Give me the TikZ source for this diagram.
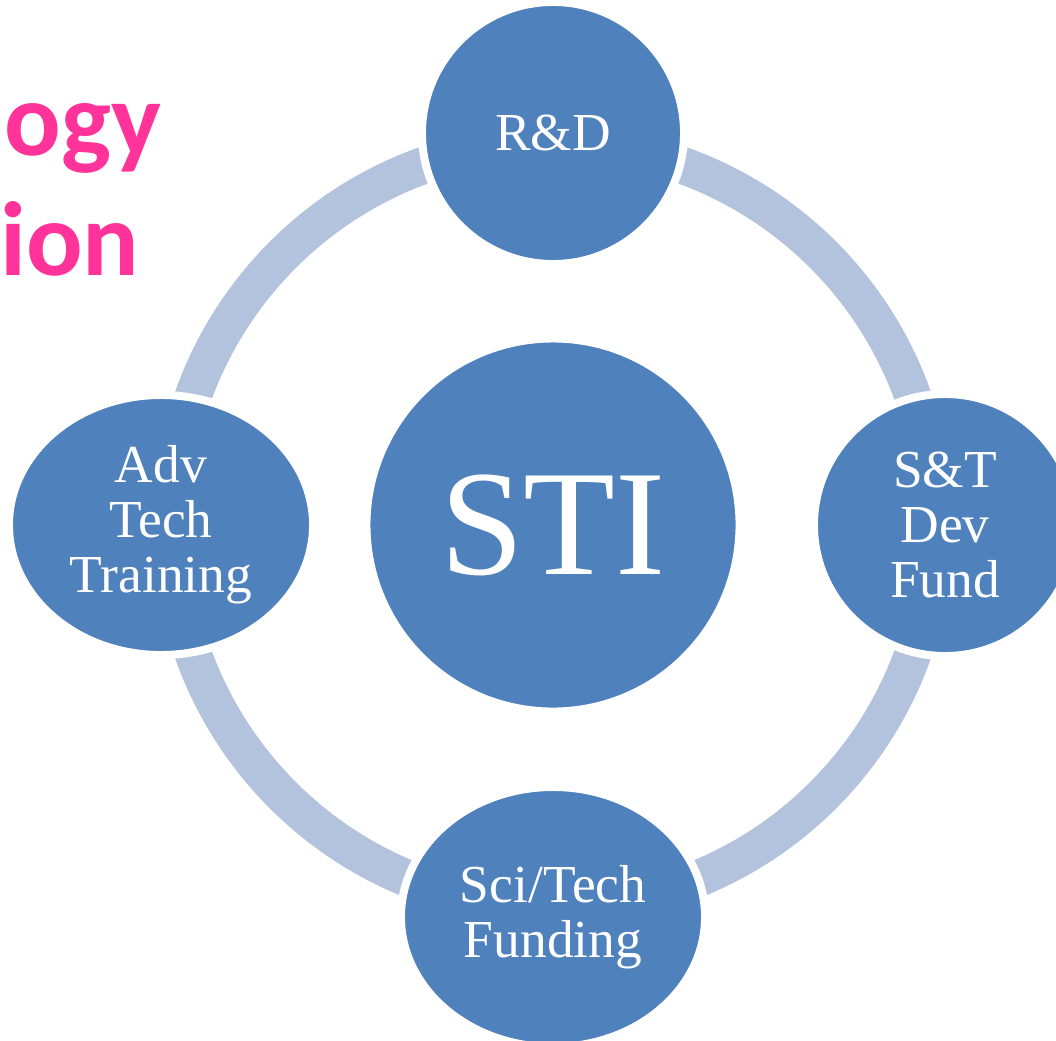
\documentclass[tikz,border=0pt]{standalone}
\usepackage{fontspec}
\setmainfont{Liberation Serif}
\newfontfamily\headfont{Carlito}
\usetikzlibrary{shapes.geometric}
\definecolor{nodefill}{HTML}{4F81BD}
\definecolor{ringfill}{HTML}{B3C2DD}
\definecolor{headpink}{HTML}{FF3399}

\begin{document}
\begin{tikzpicture}[
  x=0.025cm, y=-0.025cm,
  hub/.style={circle, fill=nodefill, draw=white, line width=0.2cm, inner sep=0pt, minimum size=9.325cm, text=white, font=\fontsize{107}{107}\selectfont},
  spoke/.style={circle, fill=nodefill, draw=white, line width=0.2cm, inner sep=0pt, minimum size=6.55cm, align=center, text=white, font=\fontsize{38}{39}\selectfont},
  wide/.style={spoke, ellipse, minimum width=7.6cm, minimum height=6.5cm},
  ring/.style={draw=ringfill, line width=0.925cm},
  head/.style={anchor=base west, inner sep=0pt, text=headpink, font=\headfont\bfseries\fontsize{75}{75}\selectfont}
]
  \useasboundingbox (0,0) rectangle (1056,1040);
  \clip (0,0) rectangle (1056,1040);
  \node[head] (ogy) at (4,155) {ogy};
  \node[head] (ion) at (0,275) {ion};
  \coordinate (mid) at (553,525);
  \draw[ring] (mid) circle[radius=9.55cm];
  \node[hub] (sti) at (mid) {STI};
  \node[spoke] (rd) at (553,133) {R\&D};
  \node[spoke] (fund) at (945,525) {S\&T\\Dev\\Fund};
  \node[wide] (train) at (161,525) {Adv\\Tech\\Training};
  \node[wide] (funding) at (553,917) {Sci/Tech\\Funding};
\end{tikzpicture}
\end{document}
